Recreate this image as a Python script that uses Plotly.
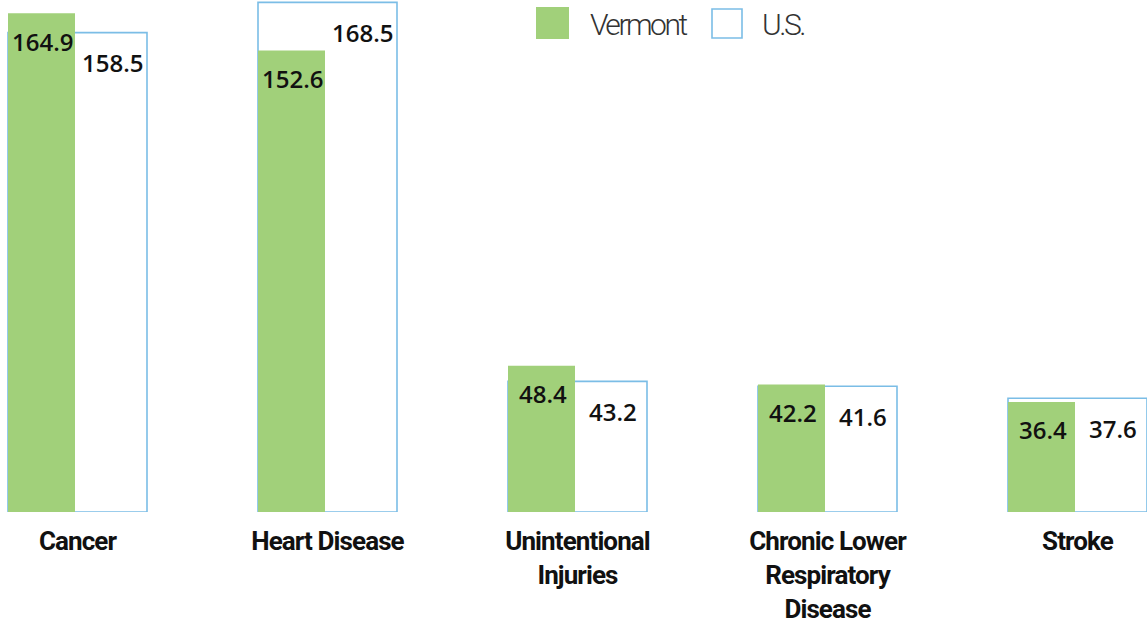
import plotly.graph_objects as go

categories = ["Cancer", "Heart Disease", "Unintentional<br>Injuries",
              "Chronic Lower<br>Respiratory<br>Disease", "Stroke"]
vermont = [164.9, 152.6, 48.4, 42.2, 36.4]
us = [158.5, 168.5, 43.2, 41.6, 37.6]
series_names = ["Vermont", "U.S."]

GREEN = "#a1d07a"
BLUE = "#7bbde6"
GW = 0.556
VW = 0.268

fig = go.Figure()
fig.add_trace(go.Bar(
    x=categories, y=us, name=series_names[1],
    width=[GW] * len(us), offset=[-GW / 2] * len(us),
    marker=dict(color="white", line=dict(color=BLUE, width=1.6)),
    showlegend=False, hoverinfo="y",
))
fig.add_trace(go.Bar(
    x=categories, y=vermont, name=series_names[0],
    width=[VW] * len(vermont), offset=[-GW / 2] * len(vermont),
    marker=dict(color=GREEN, line=dict(width=0)),
    showlegend=False, hoverinfo="y",
))

lab_font = dict(family="Open Sans", size=24, color="#111111", weight=600)
anns = []
for c, v, u in zip(categories, vermont, us):
    anns.append(dict(x=c, y=v, xref="x", yref="y", text=f"{v:.1f}",
                     showarrow=False, xshift=-35, yshift=-28,
                     font=lab_font, xanchor="center", yanchor="middle"))
    anns.append(dict(x=c, y=u, xref="x", yref="y", text=f"{u:.1f}",
                     showarrow=False, xshift=35, yshift=-30,
                     font=lab_font, xanchor="center", yanchor="middle"))

# legend
NARROW = '<span style="letter-spacing:-2.5px">{}</span>'
leg_font = dict(family="Roboto", size=30, color="#333333", weight=300)
shapes = [
    dict(type="rect", xref="paper", yref="paper", x0=536 / 1147, x1=569 / 1147,
         y0=1 - 39 / 512, y1=1 - 7 / 512, fillcolor=GREEN, line=dict(width=0)),
    dict(type="rect", xref="paper", yref="paper", x0=712 / 1147, x1=742 / 1147,
         y0=1 - 38 / 512, y1=1 - 9 / 512, fillcolor="white", line=dict(color=BLUE, width=1.6)),
]
anns.append(dict(x=588 / 1147, y=1 - 24 / 512, xref="paper", yref="paper",
                 text=NARROW.format(series_names[0]),
                 showarrow=False, xanchor="left", yanchor="middle", font=leg_font))
anns.append(dict(x=760 / 1147, y=1 - 24 / 512, xref="paper", yref="paper",
                 text=NARROW.format(series_names[1]),
                 showarrow=False, xanchor="left", yanchor="middle", font=leg_font))

TICK = '<span style="letter-spacing:-0.9px">{}</span>'
tick_text = ["<br>".join(TICK.format(p) for p in c.split("<br>")) for c in categories]

fig.update_layout(
    width=1147, height=624,
    margin=dict(l=0, r=0, t=0, b=112),
    paper_bgcolor="white", plot_bgcolor="white",
    barmode="overlay",
    annotations=anns, shapes=shapes,
    xaxis=dict(range=[-77.5 / 250, -77.5 / 250 + 1147 / 250], showgrid=False, showline=False,
               zeroline=False, ticks="", tickvals=categories, ticktext=tick_text,
               ticklabelstandoff=11, automargin=False,
               tickfont=dict(family="Roboto", size=26, color="#111111", weight="bold")),
    yaxis=dict(range=[0, 169.3], visible=False, showgrid=False, zeroline=False,
               automargin=False),
)

fig.write_html("out.html", config={"displayModeBar": False},
               post_script="document.body.style.margin='0';")
